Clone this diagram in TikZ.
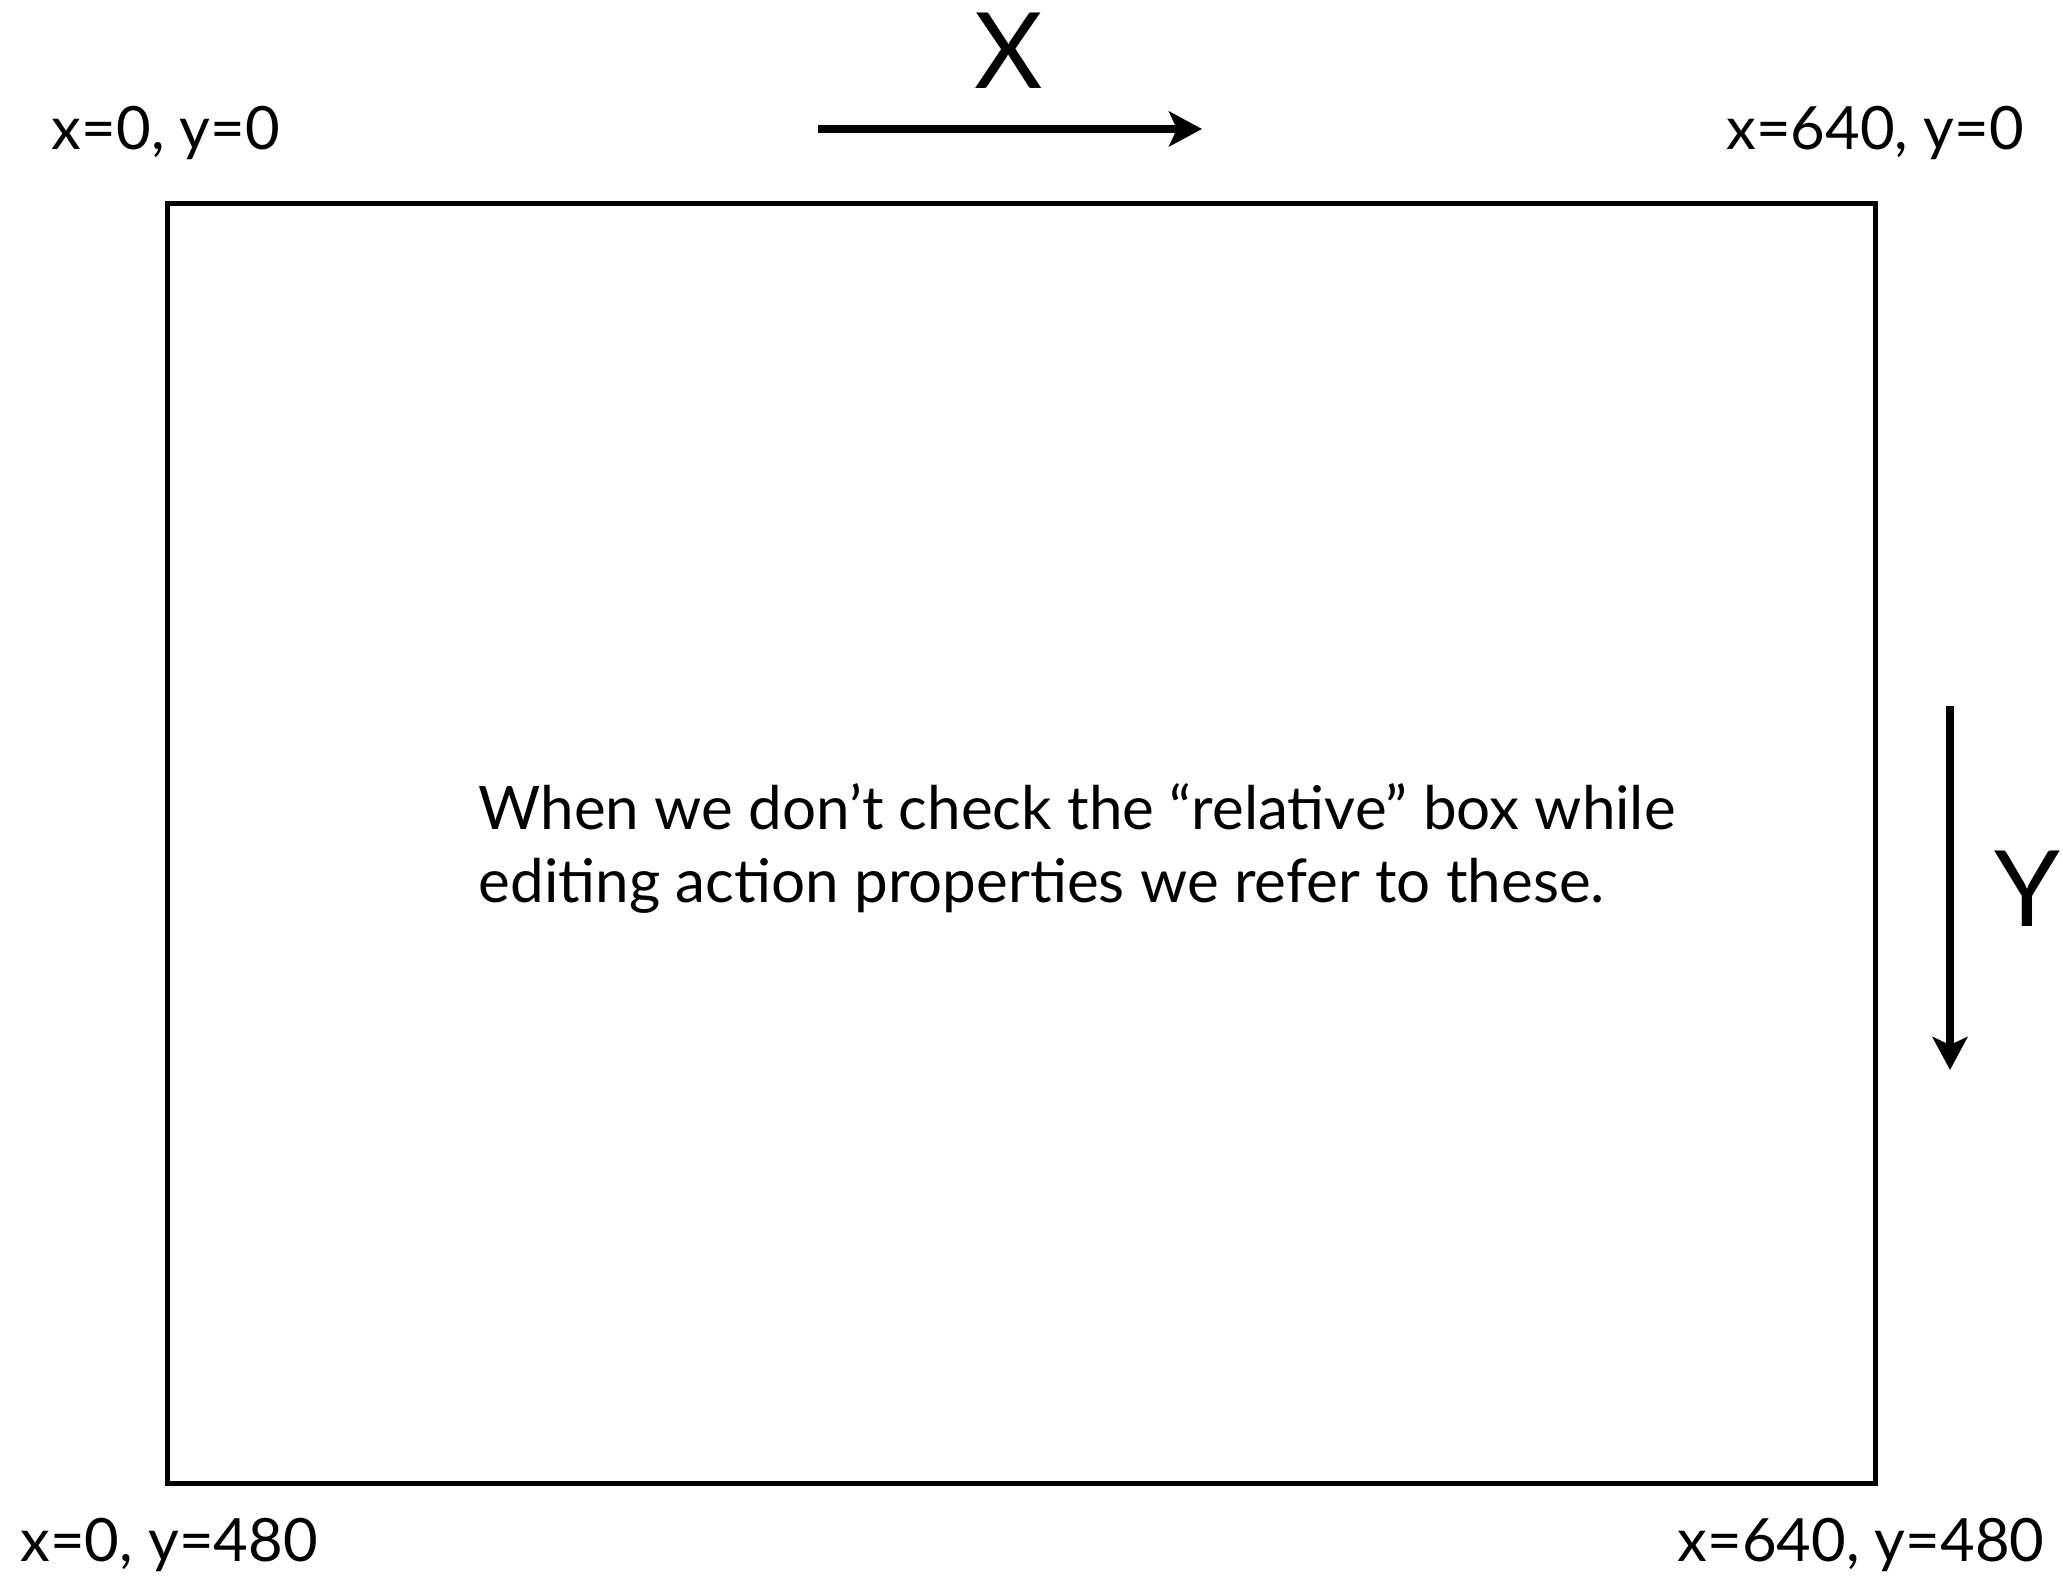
\documentclass[tikz,border=0pt]{standalone}
\usepackage{fontspec}
\setmainfont{Lato}
\usepackage{tikz}
\usetikzlibrary{arrows.meta,positioning,calc}

\begin{document}
\begin{tikzpicture}[
          corner/.style={font=\fontsize{17}{20}\selectfont,inner sep=0pt,anchor=base},
          axislbl/.style={font=\fontsize{30}{34}\selectfont,inner sep=0pt,anchor=base},
          axisarrow/.style={line width=0.08cm,-{Stealth[length=0.33cm,width=0.35cm,inset=0.08cm]}}]
        \useasboundingbox (0,0) rectangle (20.63,15.77);
        % screen frame
        \node[draw,line width=0.05cm,outer sep=0pt,inner sep=0pt,
              minimum width=17.08cm,minimum height=12.80cm] (frame) at (10.21,7.33) {};
        % corner coordinates
        \node[corner] (tl) at ($(frame.north west)+(-0.01,0.54)$) {x=0, y=0};
        \node[corner] (tr) at ($(frame.north east)+(0,0.54)$) {x=640, y=0};
        \node[corner] (bl) at ($(frame.south west)+(0.02,-0.78)$) {x=0, y=480};
        \node[corner] (br) at ($(frame.south east)+(-0.14,-0.78)$) {x=640, y=480};
        % axes
        \coordinate (xs) at (8.18,14.48);
        \coordinate (xe) at (12.02,14.48);
        \draw[axisarrow] (xs) -- (xe);
        \node[axislbl] (xl) at (10.09,14.88) {X};
        \coordinate (ys) at (19.50,8.71);
        \coordinate (ye) at (19.50,5.07);
        \draw[axisarrow] (ys) -- (ye);
        \node[axislbl] (yl) at (20.27,6.50) {Y};
        % note
        \node[font=\fontsize{17.1}{21}\selectfont,inner sep=0pt,align=left,anchor=base west]
          (note) at (4.78,6.74)
          {When we don’t check the “relative” box while\\
           editing action properties we refer to these.};
      \end{tikzpicture}
\end{document}
